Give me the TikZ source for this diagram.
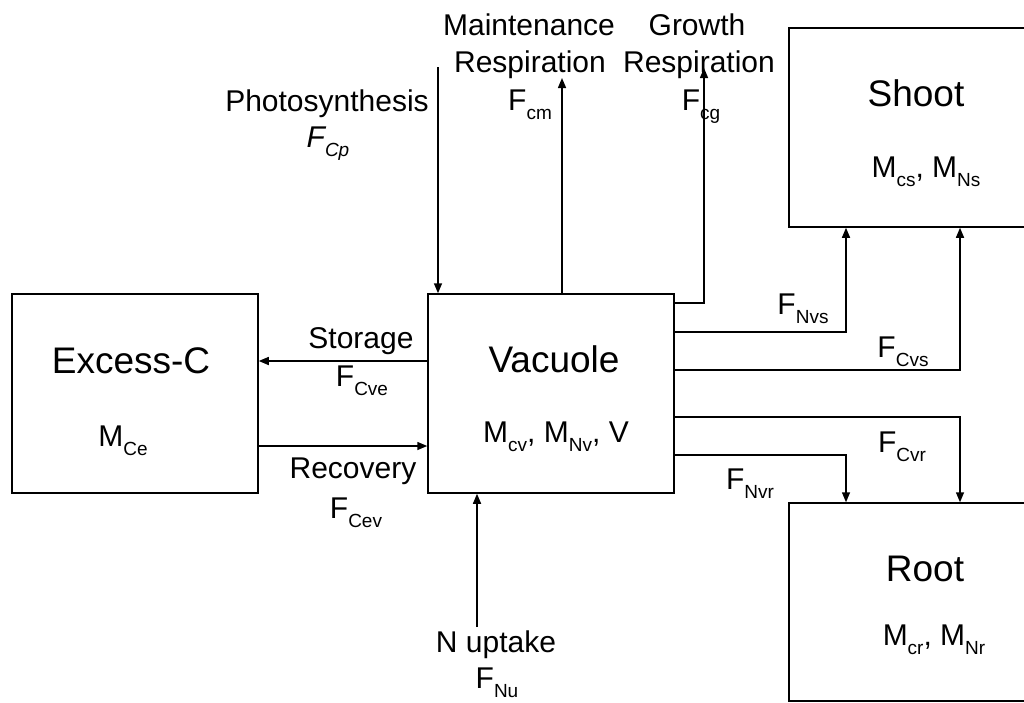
\documentclass[tikz,border=0pt]{standalone}
\usepackage{fontspec}
\setmainfont{Liberation Sans}
\usetikzlibrary{arrows.meta}
\newcommand\lo[1]{\raisebox{-9pt}{\fontsize{19}{19}\selectfont #1}}
\tikzset{
  box/.style={draw, line width=1.5pt, minimum width=246pt, minimum height=199pt, inner sep=0pt},
  lbl/.style={anchor=base, inner sep=0pt, font=\fontsize{30}{36}\selectfont},
  ttl/.style={anchor=base, inner sep=0pt, font=\fontsize{37}{44}\selectfont},
  arr/.style={line width=1.5pt, -{Triangle[length=10pt,width=8pt]}},
  ln/.style={line width=1.5pt}
}
\begin{document}
\begin{tikzpicture}[x=1pt,y=-1pt]
\useasboundingbox (0,0) rectangle (1024,702);
% boxes
\node[box] (exc) at (135,393.5) {};
\node[box] (vac) at (551,393.5) {};
\node[box] (shoot) at (912,127.5) {};
\node[box, minimum height=198pt] (root) at (912,602) {};
% box texts
\node[ttl] (excT) at (131,373) {Excess-C};
\node[lbl] (excM) at (123,446) {M\lo{Ce}};
\node[ttl] (vacT) at (554,372) {Vacuole};
\node[lbl] (vacM) at (556,442) {M\lo{cv}, M\lo{Nv}, V};
\node[ttl] (shootT) at (916,106) {Shoot};
\node[lbl] (shootM) at (926,177) {M\lo{cs}, M\lo{Ns}};
\node[ttl] (rootT) at (925,581) {Root};
\node[lbl] (rootM) at (934,645) {M\lo{cr}, M\lo{Nr}};
% coordinates for connector routes
\coordinate (ps) at (438,67);
\coordinate (mr) at (562,78);
\coordinate (gr) at (704,68);
\coordinate (grc) at (704,303);
\coordinate (nvs) at (846,332);
\coordinate (cvs) at (960,370);
\coordinate (cvr) at (960,417);
\coordinate (nvr) at (846,455);
\coordinate (st) at (0,361);
\coordinate (rc) at (0,446);
\coordinate (nu) at (477,627);
% connectors
\draw[arr] (ps) -- (ps |- vac.north);
\draw[arr] (mr |- vac.north) -- (mr);
\draw[arr] (vac.east |- grc) -- (grc) -- (gr);
\draw[arr] (vac.east |- nvs) -- (nvs) -- (nvs |- shoot.south);
\draw[arr] (vac.east |- cvs) -- (cvs) -- (cvs |- shoot.south);
\draw[arr] (vac.east |- cvr) -- (cvr) -- (cvr |- root.north);
\draw[arr] (vac.east |- nvr) -- (nvr) -- (nvr |- root.north);
\draw[arr] (vac.west |- st) -- (exc.east |- st);
\draw[arr] (exc.east |- rc) -- (vac.west |- rc);
\draw[arr] (nu) -- (nu |- vac.south);
% labels
\node[lbl] (mt1) at (529,35) {Maintenance};
\node[lbl] (mt2) at (530,72) {Respiration};
\node[lbl] (mt3) at (530,110) {F\lo{cm}};
\node[lbl] (gw1) at (697,35) {Growth};
\node[lbl] (gw2) at (699,72) {Respiration};
\node[lbl] (gw3) at (701,110) {F\lo{cg}};
\node[lbl] (ph1) at (327,111) {Photosynthesis};
\node[lbl] (ph2) at (328,147) {\itshape F\lo{\itshape Cp}};
\node[lbl] (st1) at (361,348) {Storage};
\node[lbl] (st2) at (362,386) {F\lo{Cve}};
\node[lbl] (rc1) at (353,478) {Recovery};
\node[lbl] (rc2) at (356,518) {F\lo{Cev}};
\node[lbl] (nu1) at (496,652) {N uptake};
\node[lbl] (nu2) at (497,688) {F\lo{Nu}};
\node[lbl] (lnvs) at (803,314) {F\lo{Nvs}};
\node[lbl] (lcvs) at (903,357) {F\lo{Cvs}};
\node[lbl] (lcvr) at (902,452) {F\lo{Cvr}};
\node[lbl] (lnvr) at (750,489) {F\lo{Nvr}};
\end{tikzpicture}
\end{document}
